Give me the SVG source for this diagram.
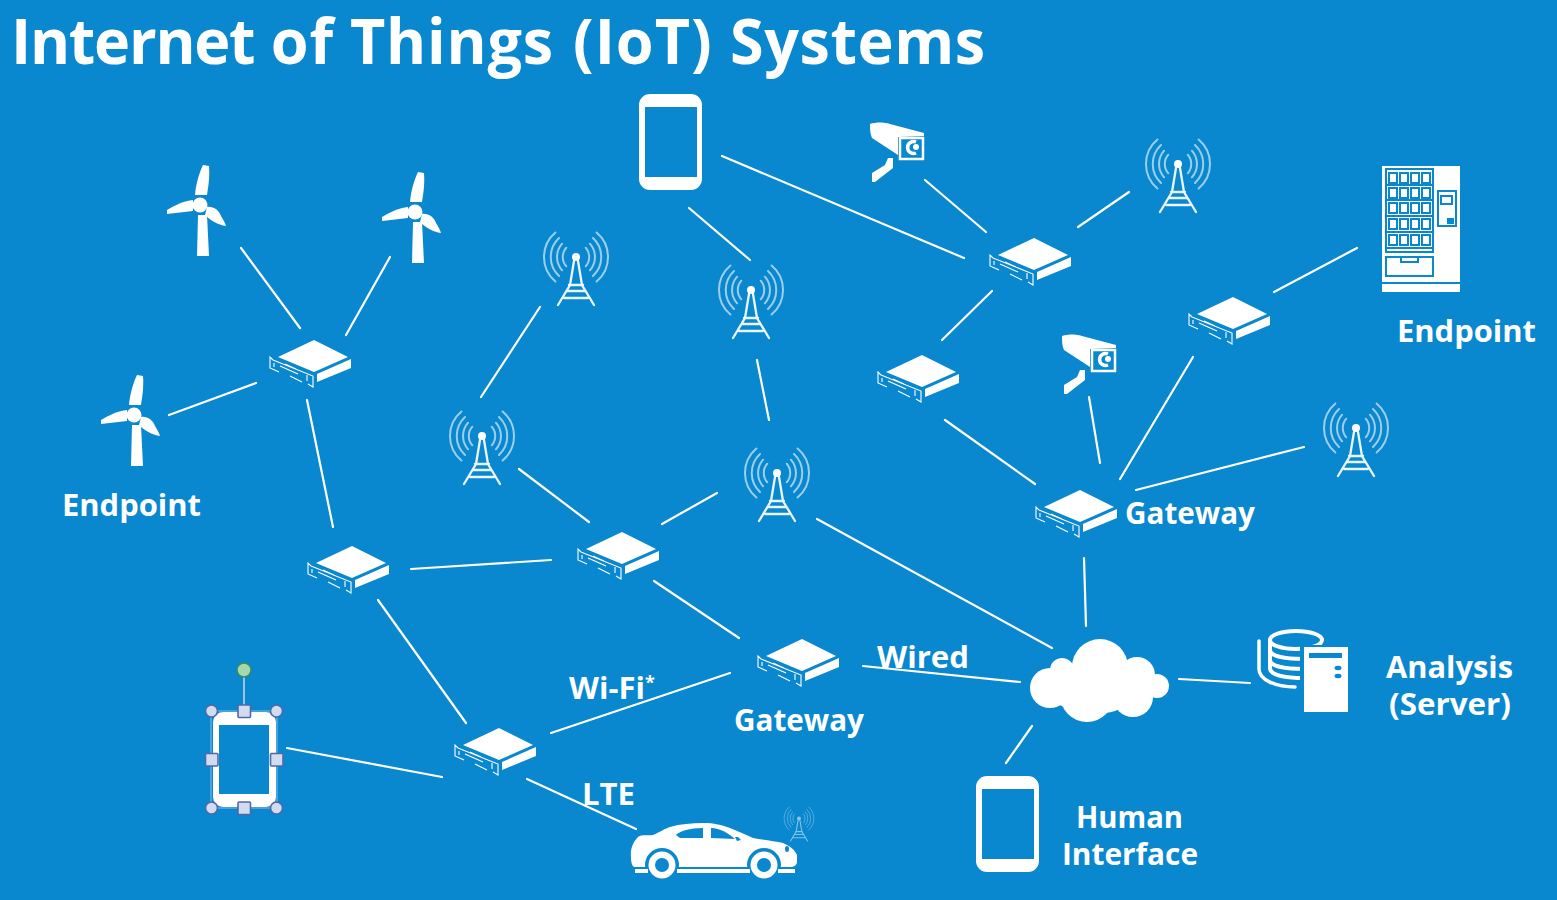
<svg xmlns="http://www.w3.org/2000/svg" width="1557" height="900" viewBox="0 0 1557 900">
<style>
.lbl{font-family:"Open Sans","Noto Sans","Liberation Sans",sans-serif;font-weight:700;font-size:31px;fill:#fff}
#connectors line{stroke:#fff;stroke-width:2.2;stroke-linecap:round}
.w{fill:#fff}
.b{fill:#0987cf}
.bs{fill:none;stroke:#0987cf}
.ws{fill:none;stroke:#fff}
.arc{fill:none;stroke:#fff;stroke-opacity:.6;stroke-width:2;stroke-linecap:round}
.hs{fill:#d3dcee;stroke:#4f68a8;stroke-width:1.6}
</style>
<defs>
<g id="router">
<path class="w" d="M4-23 38-6 4 9-32-6Z"/>
<path class="w" d="M7 11 41-4V5L7 19Z"/>
<path class="ws" stroke-width="1.1" d="M-37-3-40-6V5L-31 9M-20 13 -8 19M-2 21 3 24V13L-37-3M-36 0V4M-30 3-12 11M-25 1-14 6M-3 12V18"/>
</g>
<g id="tower">
<g class="arc">
<path d="M-9.700 -8.300A14 14 0 0 0-9.700 10.300M9.700-8.300A14 14 0 0 1 9.700 10.300"/>
<path d="M-13.900-12.300A20 20 0 0 0-13.900 14.300M13.900-12.300A20 20 0 0 1 13.900 14.300"/>
<path d="M-17-18A26 26 0 0 0-17 20M17-18A26 26 0 0 1 17 20"/>
<path d="M-20.600-23.500A32 32 0 0 0-20.600 25.500M20.600-23.500A32 32 0 0 1 20.600 25.500"/>
</g>
<circle class="w" cy="1" r="4"/>
<path class="ws" stroke-width="2.300" stroke-opacity=".92" stroke-linecap="round" d="M-2 5-6 29-18 49M2 5 6 29 18 49M-7 29H7M-9 35H9M-12 42H12"/>
</g>
<g id="turbine">
<path class="w" d="M-2 10H7L9 51H-3Z"/>
<path class="w" d="M-5-10C-4-22 0-34 3-40L9-39C10-27 8-17 7-10Z"/>
<path class="w" d="M-7-5C-16-4-25 0-33 5V9L-7 6Z"/>
<path class="w" d="M7 2C13 1 19 5 21 11 23 14 25 18 26 21 18 20 10 15 5 10Z"/>
<circle class="w" cx="0" cy="0" r="7.500"/>
</g>
<g id="camera">
<path class="w" d="M0 0C6-2 14-2 20 0L54 9V12L28 13V31L2 14C0 10 0 5 0 0Z"/>
<path class="ws" stroke-width="2.500" d="M30 14H53V35H30Z"/>
<path class="ws" stroke-width="3.500" d="M46 18A6 6 0 1 0 46 29"/>
<circle class="w" cx="46" cy="23" r="3"/>
<path class="w" d="M18 34H23V44L5 58H2V49L15 41Z"/>
</g>
<g id="tablet"><path class="w" fill-rule="evenodd" d="M11 0H52A11 11 0 0 1 63 11V85A11 11 0 0 1 52 96H11A11 11 0 0 1 0 85V11A11 11 0 0 1 11 0ZM6 13V83H58V13Z"/></g>
</defs>
<rect width="1557" height="900" class="b"/>
<text id="title" y="64" transform="scale(.97 1)" style="font-family:'Open Sans','Noto Sans','Liberation Sans',sans-serif;font-weight:700;font-size:63px;fill:#fff"><tspan x="11.300" letter-spacing="-1.300">Internet</tspan> <tspan x="279" letter-spacing="1">of</tspan> <tspan x="360.800" letter-spacing=".8">Things</tspan> <tspan x="590.700" letter-spacing="1">(IoT)</tspan> <tspan x="752.500" letter-spacing=".6">Systems</tspan></text>
<g id="connectors">
<line x1="241" y1="248" x2="300" y2="328"/><line x1="390" y1="257" x2="346" y2="335"/><line x1="169" y1="415" x2="256" y2="383"/>
<line x1="307" y1="400" x2="333" y2="527"/><line x1="411" y1="569" x2="551" y2="560"/><line x1="540" y1="307" x2="481" y2="397"/>
<line x1="519" y1="469" x2="589" y2="522"/><line x1="662" y1="524" x2="717" y2="493"/><line x1="654" y1="581" x2="739" y2="638"/>
<line x1="757" y1="360" x2="769" y2="420"/><line x1="689" y1="208" x2="750" y2="260"/><line x1="722" y1="156" x2="964" y2="258"/>
<line x1="925" y1="180" x2="986" y2="232"/><line x1="1078" y1="227" x2="1129" y2="192"/><line x1="992" y1="291" x2="942" y2="340"/>
<line x1="945" y1="420" x2="1035" y2="484"/><line x1="1089" y1="397" x2="1100" y2="463"/><line x1="1120" y1="479" x2="1193" y2="357"/>
<line x1="1136" y1="490" x2="1304" y2="447"/><line x1="1274" y1="292" x2="1357" y2="248"/><line x1="1084" y1="558" x2="1086" y2="626"/>
<line x1="817" y1="519" x2="1052" y2="648"/><line x1="863" y1="666" x2="1020" y2="682"/><line x1="1179" y1="679" x2="1250" y2="683"/>
<line x1="1032" y1="726" x2="1006" y2="763"/><line x1="378" y1="600" x2="466" y2="723"/><line x1="730" y1="673" x2="551" y2="733"/>
<line x1="287" y1="748" x2="442" y2="777"/><line x1="527" y1="779" x2="636" y2="829"/>
</g>
<g id="router1"><use href="#router" x="310" y="363"/></g>
<g id="router2"><use href="#router" x="1030" y="261"/></g>
<g id="router3"><use href="#router" x="1229" y="320"/></g>
<g id="router4"><use href="#router" x="918" y="378"/></g>
<g id="router5"><use href="#router" x="1076" y="513"/></g>
<g id="router6"><use href="#router" x="348" y="569"/></g>
<g id="router7"><use href="#router" x="618" y="555"/></g>
<g id="router8"><use href="#router" x="798" y="662"/></g>
<g id="router9"><use href="#router" x="495" y="751"/></g>
<g id="tower1"><use href="#tower" x="576" y="256"/></g>
<g id="tower2"><use href="#tower" x="751" y="289"/></g>
<g id="tower3"><use href="#tower" x="482" y="435"/></g>
<g id="tower4"><use href="#tower" x="777" y="472"/></g>
<g id="tower5"><use href="#tower" x="1178" y="163"/></g>
<g id="tower6"><use href="#tower" x="1356" y="427"/></g>
<g id="turbine1"><use href="#turbine" x="200" y="205"/></g>
<g id="turbine2"><use href="#turbine" x="415" y="212"/></g>
<g id="turbine3"><use href="#turbine" x="134" y="415"/></g>
<g id="camera1"><use href="#camera" x="870" y="124"/></g>
<g id="camera2"><use href="#camera" x="1062" y="336"/></g>
<g id="tablet-top"><use href="#tablet" x="639" y="94"/></g>
<g id="tablet-human"><use href="#tablet" x="976" y="776"/></g>
<g id="vending">
<rect class="w" x="1382" y="166" width="78" height="116"/>
<rect class="w" x="1382" y="284" width="78" height="8"/>
<g class="bs" stroke-width="2">
<rect x="1386" y="169" width="47" height="83"/>
<path d="M1386 185H1433M1386 200H1433M1386 216H1433M1386 232H1433M1386 248H1433"/>
<path d="M1389 173h8v10h-8zM1400 173h8v10h-8zM1411 173h8v10h-8zM1422 173h8v10h-8z"/>
<path d="M1389 188h8v10h-8zM1400 188h8v10h-8zM1411 188h8v10h-8zM1422 188h8v10h-8z"/>
<path d="M1389 203h8v10h-8zM1400 203h8v10h-8zM1411 203h8v10h-8zM1422 203h8v10h-8z"/>
<path d="M1389 219h8v10h-8zM1400 219h8v10h-8zM1411 219h8v10h-8zM1422 219h8v10h-8z"/>
<path d="M1389 235h8v10h-8zM1400 235h8v10h-8zM1411 235h8v10h-8zM1422 235h8v10h-8z"/>
<rect x="1386" y="257" width="47" height="19"/>
<path d="M1401 257v5h17v-5"/>
<rect x="1438" y="191" width="18" height="35"/>
<rect x="1441" y="196" width="11" height="8"/>
</g>
<rect class="b" x="1447" y="218" width="7" height="6"/>
</g>
<g id="selected-tablet">
<path d="M244 676V710" stroke="#9cc3ea" stroke-width="2" fill="none"/>
<rect x="211" y="711" width="66" height="97" fill="none" stroke="#9cc3ea" stroke-opacity=".6" stroke-width="1.500"/>
<path class="w" fill-rule="evenodd" d="M223 712H266A10 10 0 0 1 276 722V797A10 10 0 0 1 266 807H223A10 10 0 0 1 213 797V722A10 10 0 0 1 223 712ZM219 725V794H269V725Z"/>
<circle cx="244" cy="670" r="7" fill="#a3d9ad" stroke="#3c8a5a" stroke-width="1.500"/>
<circle class="hs" cx="211.500" cy="711" r="6"/><circle class="hs" cx="276.500" cy="711" r="6"/>
<circle class="hs" cx="211.500" cy="808" r="6"/><circle class="hs" cx="276.500" cy="808" r="6"/>
<rect class="hs" x="238" y="705" width="12.500" height="12.500" rx="1"/><rect class="hs" x="238" y="802" width="12.500" height="12.500" rx="1"/>
<rect class="hs" x="205.500" y="753.500" width="12.500" height="12.500" rx="1"/><rect class="hs" x="270.500" y="753.500" width="12.500" height="12.500" rx="1"/>
</g>
<g id="car">
<path class="w" d="M631 858C630 849 633 842 638 837 642 834 648 836 653 835 660 832 664 829 670 827 680 824 692 823 703 823 714 823 722 825 730 828 738 831 746 835 753 838 763 840 775 841 783 843 790 846 795 850 797 855V862C797 865 794 867 790 867H634C632 866 631 862 631 858Z"/>
<path class="b" d="M676 835C680 831 690 828 703 828V838H680ZM711 828C720 828 728 833 735 839L711 838ZM735 837H738L741 840 737 841Z"/>
<ellipse class="b" cx="787" cy="849" rx="2" ry="3"/>
<circle class="b" cx="662" cy="865" r="17"/><circle class="w" cx="662" cy="865" r="13.500"/><circle class="b" cx="662" cy="865" r="7"/>
<circle class="b" cx="764" cy="865" r="17"/><circle class="w" cx="764" cy="865" r="13.500"/><circle class="b" cx="764" cy="865" r="7"/>
<path class="w" d="M635 869H648V873H635ZM677 869H750V873H677ZM778 869H795V873H778Z"/>
<g opacity=".55"><use href="#tower" transform="translate(799 818) scale(.47)"/></g>
</g>
<g id="cloud">
<g class="w">
<circle cx="1100" cy="667" r="28"/><circle cx="1050" cy="688" r="20"/><circle cx="1062" cy="670" r="12"/>
<circle cx="1137" cy="675" r="18"/><circle cx="1157" cy="686" r="12"/>
<circle cx="1087" cy="695" r="27"/><circle cx="1133" cy="697" r="20"/><circle cx="1105" cy="685" r="28"/><circle cx="1070" cy="690" r="18"/>
</g>
</g>
<g id="server">
<g class="ws" stroke-width="4">
<ellipse cx="1296" cy="640" rx="26" ry="9"/>
<path d="M1270 640V668C1270 675 1284 678 1304 678M1270 650C1270 656 1284 659 1304 659M1270 660C1270 666 1284 669 1304 669"/>
</g>
<path class="ws" stroke-width="3.500" stroke-linecap="round" d="M1259 641V669C1259 680 1276 687 1295 687"/>
<rect class="b" x="1300" y="645" width="50" height="72"/>
<rect class="w" x="1304" y="647" width="44" height="65"/>
<rect class="b" x="1309" y="653" width="33" height="5"/>
<ellipse class="b" cx="1338" cy="668" rx="3.500" ry="2.200"/><ellipse class="b" cx="1338" cy="676" rx="3.500" ry="2.200"/>
</g>
<g id="labels">
<text class="lbl" x="62" y="516" textLength="139" lengthAdjust="spacingAndGlyphs">Endpoint</text>
<text class="lbl" x="1397" y="342" textLength="139" lengthAdjust="spacingAndGlyphs">Endpoint</text>
<text class="lbl" x="1125" y="524" textLength="130" lengthAdjust="spacingAndGlyphs">Gateway</text>
<text class="lbl" x="734" y="731" textLength="130" lengthAdjust="spacingAndGlyphs">Gateway</text>
<text class="lbl" x="877" y="668" textLength="92" lengthAdjust="spacingAndGlyphs">Wired</text>
<text class="lbl" x="569" y="699">Wi-Fi<tspan font-size="18" dy="-10">*</tspan></text>
<text class="lbl" x="582" y="805" textLength="53" lengthAdjust="spacingAndGlyphs">LTE</text>
<text class="lbl" x="1386" y="678" textLength="127" lengthAdjust="spacingAndGlyphs">Analysis</text>
<text class="lbl" x="1389" y="715" textLength="122" lengthAdjust="spacingAndGlyphs">(Server)</text>
<text class="lbl" x="1076" y="828" textLength="107" lengthAdjust="spacingAndGlyphs">Human</text>
<text class="lbl" x="1062" y="865" textLength="136" lengthAdjust="spacingAndGlyphs">Interface</text>
</g>
</svg>
